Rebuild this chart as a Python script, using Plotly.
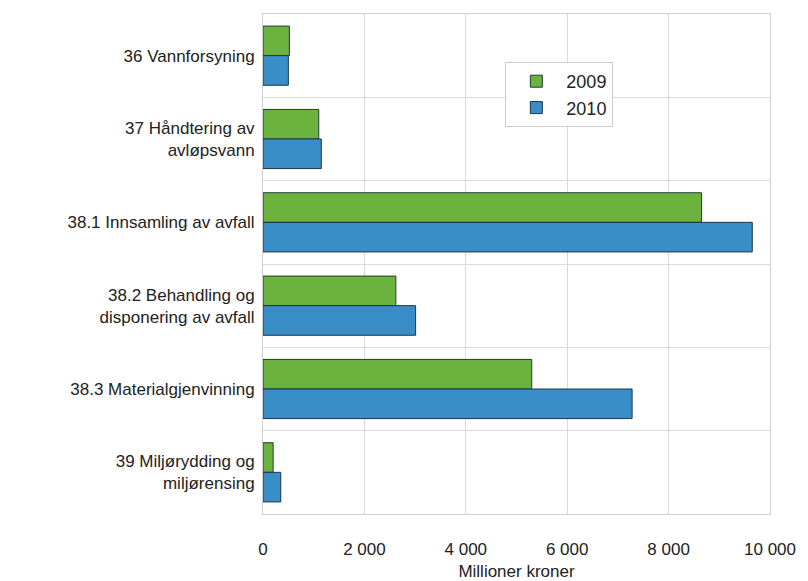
import plotly.graph_objects as go

categories = [
    "36 Vannforsyning",
    "37 Håndtering av<br>avløpsvann",
    "38.1 Innsamling av avfall",
    "38.2 Behandling og<br>disponering av avfall",
    "38.3 Materialgjenvinning",
    "39 Miljørydding og<br>miljørensing",
]
values_2009 = [520, 1100, 8650, 2620, 5300, 200]
values_2010 = [500, 1150, 9650, 3010, 7280, 350]

x_ticks = [0, 2000, 4000, 6000, 8000, 10000]

fig = go.Figure()
fig.add_trace(go.Bar(
    name="2009", y=categories, x=values_2009, orientation="h",
    marker=dict(color="#6cb23e", line=dict(color="#203a3a", width=1)),
))
fig.add_trace(go.Bar(
    name="2010", y=categories, x=values_2010, orientation="h",
    marker=dict(color="#3a8ec8", line=dict(color="#1d3348", width=1)),
))

fig.update_layout(
    width=808, height=581,
    margin=dict(l=263, r=38, t=14, b=67),
    paper_bgcolor="white", plot_bgcolor="white",
    barmode="group", bargap=0.29, bargroupgap=0,
    separators=", ",
    font=dict(family="Liberation Sans, Arial, sans-serif", size=17, color="#222222"),
    legend=dict(
        x=0.478, y=0.904, xanchor="left", yanchor="top",
        bordercolor="#cccccc", borderwidth=1, bgcolor="white",
        font=dict(size=18, color="#222222"),
        itemwidth=50, tracegroupgap=0,
    ),
    showlegend=True,
)
fig.update_xaxes(
    range=[0, 10000], tickvals=x_ticks, tickformat=",d",
    showgrid=True, gridcolor="#d9d9d9", gridwidth=1,
    showline=True, linecolor="#d0d0d0", mirror=True,
    zeroline=False, ticks="", ticklabelstandoff=20,
    automargin=False,
    title=dict(text="Millioner kroner", font=dict(size=17), standoff=6),
)
fig.update_yaxes(
    autorange="reversed", type="category", tickson="boundaries",
    showgrid=True, gridcolor="#d9d9d9", gridwidth=1,
    showline=True, linecolor="#d0d0d0", mirror=True,
    ticks="", ticklabelstandoff=4, automargin=False,
)

fig.write_html("out.html")
